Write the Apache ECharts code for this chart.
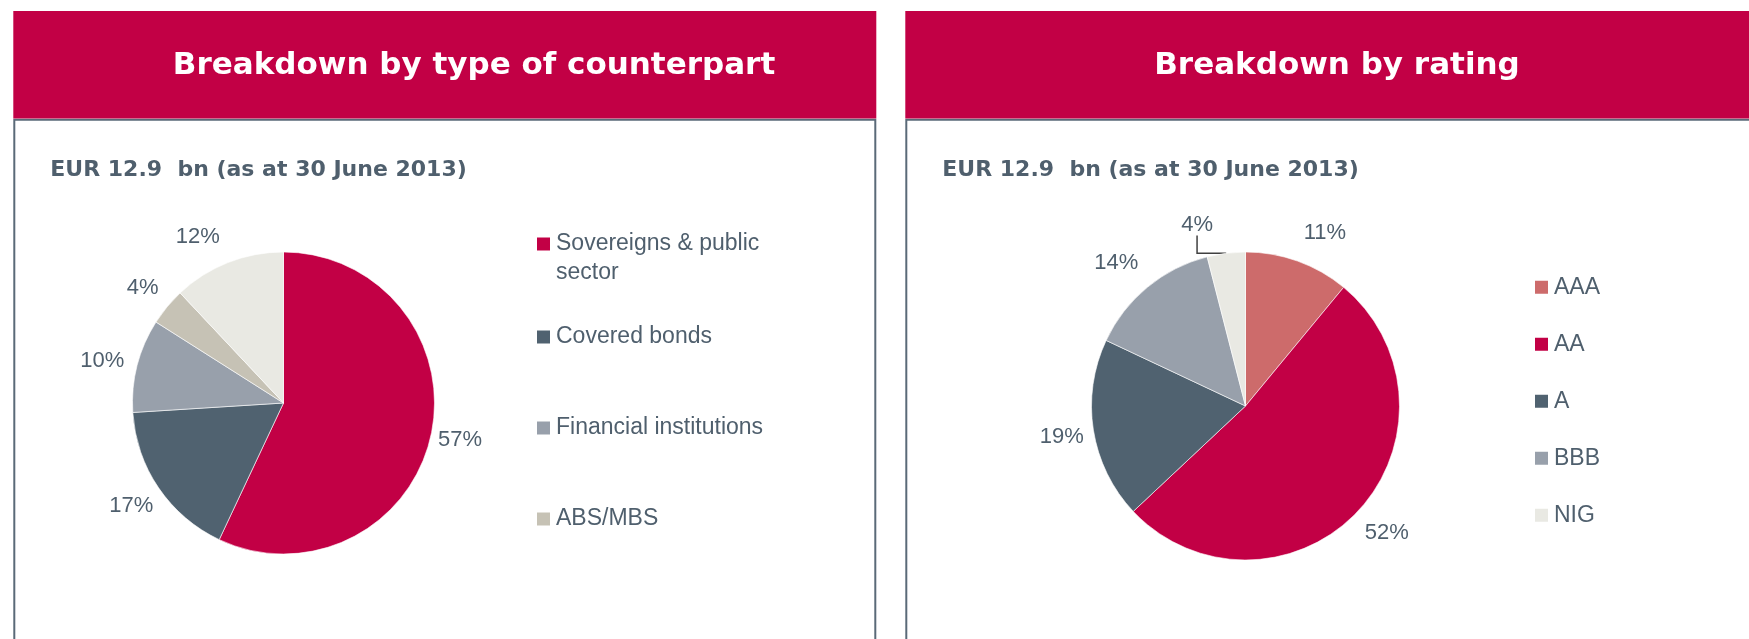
<!DOCTYPE html>
<html>
<head>
<meta charset="utf-8">
<title>Breakdown</title>
<script src="https://cdn.jsdelivr.net/npm/echarts@6/dist/echarts.min.js"></script>
<style>
  html, body { margin: 0; padding: 0; background: #fff; }
  #chart { width: 1749px; height: 639px; }
</style>
</head>
<body>
<div id="chart"></div>
<script>
// data
const headerTitles = ["Breakdown by type of counterpart", "Breakdown by rating"];
const subTitle = "EUR 12.9  bn (as at 30 June 2013)";

const counterpartNames = ["Sovereigns & public sector", "Covered bonds", "Financial institutions", "ABS/MBS", "Other"];
const counterpartValues = [57, 17, 10, 4, 12];
const counterpartLegend = ["Sovereigns & public sector", "Covered bonds", "Financial institutions", "ABS/MBS"];

const ratingNames = ["AAA", "AA", "A", "BBB", "NIG"];
const ratingValues = [11, 52, 19, 14, 4];

// styles
const RED = "#c20045";
const SLATE = "#4f5f6d";
const BORDER = "#5a6a78";
const counterpartColors = [RED, "#506270", "#98a0ab", "#c6c2b5", "#e9e9e3"];
const ratingColors = ["#cd6b6b", RED, "#506270", "#98a0ab", "#e9e9e3"];
const BOLD_FONT = "DejaVu Sans";
const FONT = "Liberation Sans";

// little shifts so labels sit where excel put them
const counterpartNudge = [[-3, -3], [0, 0], [-3, 4], [1, 2], [-18, 5]];
const ratingNudge = [[16, 3], [5, -1], [1, 2], [-10, 1], [-25, 4]];

function labelPlacer(values, cx, cy, r, gap, nudges) {
  const total = values.reduce((a, b) => a + b, 0);
  return function (params) {
    let before = 0;
    for (let i = 0; i < params.dataIndex; i++) before += values[i];
    const mid = ((before + values[params.dataIndex] / 2) / total) * Math.PI * 2;
    const n = nudges[params.dataIndex];
    return {
      x: cx + (r + gap) * Math.sin(mid) + n[0],
      y: cy - (r + gap) * Math.cos(mid) + n[1],
      align: "center",
      verticalAlign: "middle"
    };
  };
}

function pieSeries(names, values, colors, cx, cy, r, nudges) {
  return {
    type: "pie",
    center: [cx, cy],
    radius: r,
    startAngle: 90,
    clockwise: true,
    avoidLabelOverlap: false,
    silent: true,
    emphasis: { disabled: true },
    itemStyle: { borderColor: "#fff", borderWidth: 0.6 },
    label: {
      show: true,
      position: "outside",
      formatter: "{c}%",
      color: SLATE,
      fontFamily: FONT,
      fontSize: 22
    },
    labelLine: { show: false },
    labelLayout: labelPlacer(values, cx, cy, r, 33, nudges),
    data: names.map((name, i) => {
      const item = { name: name, value: values[i], itemStyle: { color: colors[i] } };
      if (name === "NIG") {
        item.labelLine = { show: true, length: 8, length2: 20, lineStyle: { color: "#404040", width: 1.5 } };
      }
      return item;
    })
  };
}

const legendText = {
  color: SLATE,
  fontFamily: FONT,
  fontSize: 23,
  lineHeight: 29
};

// the long name wraps; a blank first line keeps the square level with the top line
function legendFormatter(name) {
  return name === "Sovereigns & public sector" ? "\nSovereigns & public\nsector" : name;
}

const leftLegendTops = [200.5, 322.5, 413.5, 504.5];
const leftLegends = counterpartLegend.map((name, i) => ({
  data: [name],
  left: 535,
  top: leftLegendTops[i],
  padding: 0,
  icon: "rect",
  itemWidth: 15,
  itemHeight: 15,
  selectedMode: false,
  formatter: legendFormatter,
  textStyle: legendText
}));

const rightLegend = {
  data: ratingNames,
  orient: "vertical",
  left: 1533,
  top: 272.8,
  padding: 0,
  itemGap: 28,
  icon: "rect",
  itemWidth: 15,
  itemHeight: 15,
  selectedMode: false,
  textStyle: legendText
};

function panel(x, w, title, titleX) {
  return [
    {
      type: "rect",
      shape: { x: x, y: 119.7, width: w, height: 600 },
      style: { fill: "#fff", stroke: BORDER, lineWidth: 2 },
      silent: true
    },
    {
      type: "rect",
      shape: { x: x - 1, y: 11, width: w + 2, height: 107.5 },
      style: { fill: RED },
      silent: true
    },
    {
      type: "text",
      style: {
        x: titleX, y: 66, text: title, align: "center", verticalAlign: "middle",
        fill: "#fff", font: "bold 31px '" + BOLD_FONT + "'"
      },
      silent: true
    },
    {
      type: "text",
      style: {
        x: x + 36, y: 170, text: subTitle, align: "left", verticalAlign: "middle",
        fill: SLATE, font: "bold 22px '" + BOLD_FONT + "'"
      },
      silent: true
    }
  ];
}

const myChart = echarts.init(document.getElementById("chart"), null, { renderer: "canvas" });

const option = {
  animation: false,
  backgroundColor: "#fff",
  graphic: {
    elements: [].concat(
      panel(14.3, 861, headerTitles[0], 474),
      panel(906.3, 900, headerTitles[1], 1337)
    )
  },
  legend: leftLegends.concat([rightLegend]),
  series: [
    pieSeries(counterpartNames, counterpartValues, counterpartColors, 283.5, 403, 151, counterpartNudge),
    pieSeries(ratingNames, ratingValues, ratingColors, 1245.5, 406, 154, ratingNudge)
  ]
};

myChart.setOption(option);
</script>
</body>
</html>
